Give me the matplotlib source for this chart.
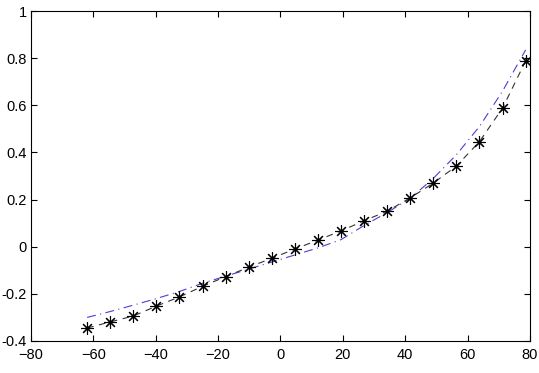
import numpy as np
import matplotlib.pyplot as plt
from matplotlib.ticker import FuncFormatter

plt.rcParams['font.family'] = ['Liberation Sans', 'DejaVu Sans']

# points
x_pts = [-62.0, -54.6, -47.2, -39.8, -32.4, -25.0, -17.6, -10.2, -2.8, 4.6,
         12.0, 19.4, 26.8, 34.2, 41.6, 49.0, 56.4, 63.8, 71.2, 78.6]
y_mesure = [-0.345, -0.319, -0.294, -0.252, -0.213, -0.168, -0.127, -0.087, -0.049, -0.010,
            0.028, 0.067, 0.110, 0.151, 0.207, 0.270, 0.342, 0.446, 0.588, 0.788]
y_modele = [-0.300, -0.275, -0.248, -0.220, -0.190, -0.155, -0.125, -0.095, -0.065, -0.035,
            -0.005, 0.030, 0.090, 0.145, 0.205, 0.290, 0.390, 0.510, 0.660, 0.835]

fig = plt.figure(figsize=(5.39, 3.73), dpi=100)
ax = fig.add_axes([0.0575, 0.0858, 0.9258, 0.8847])

ax.plot(x_pts, y_modele, color='#4a3fd6', linewidth=0.8, linestyle=(0, (8, 4, 1, 4)))
# asterisk marker, 8 arms like matlab '*'
ax.plot(x_pts, y_mesure, color='#333333', linewidth=0.8, linestyle=(0, (6, 5)),
        marker=(8, 2, 0), markersize=9, markeredgecolor='black',
        markeredgewidth=0.8)

ax.set_xlim(-80, 80)
ax.set_ylim(-0.4, 1)
ax.set_xticks(np.arange(-80, 81, 20))
ax.set_yticks(np.arange(-0.4, 1.01, 0.2))
ax.yaxis.set_major_formatter(FuncFormatter(lambda v, p: '%g' % round(v, 1)))
ax.tick_params(direction='in', top=True, right=True, length=4, width=0.8,
               labelsize=10.5)
ax.tick_params(axis='x', pad=5)
ax.tick_params(axis='y', pad=3)
for s in ax.spines.values():
    s.set_linewidth(0.8)

fig.savefig('out.png', dpi=100)
